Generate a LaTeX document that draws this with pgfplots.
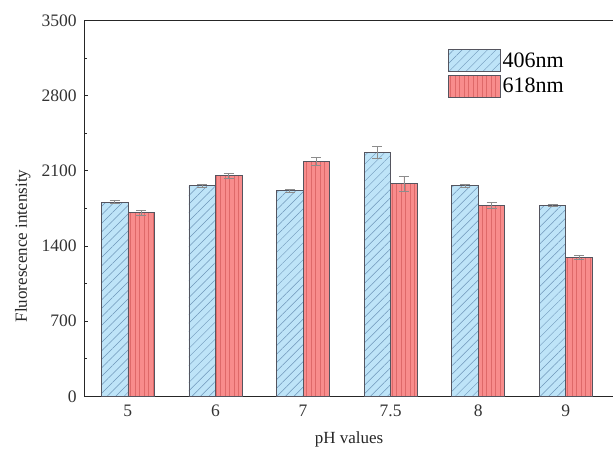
\documentclass[border=0pt]{standalone}
\usepackage{fontspec}
\setmainfont{Liberation Serif}
\usepackage{pgfplots}
\pgfplotsset{compat=1.18}
\usetikzlibrary{patterns.meta}
\definecolor{bfill}{RGB}{190,228,248}
\definecolor{bline}{RGB}{110,150,185}
\definecolor{rfill}{RGB}{248,140,140}
\definecolor{rline}{RGB}{222,105,105}
\definecolor{edge}{RGB}{85,85,95}
\definecolor{errc}{RGB}{140,140,140}
\pgfplotsset{myerr/.style={error bars/.cd, y dir=both, y explicit,
  error bar style={draw=errc, line width=0.6pt},
  error mark options={rotate=90, mark size=5pt, draw=errc, line width=0.6pt}}}
\begin{document}
\begin{tikzpicture}
\begin{axis}[
  scale only axis, width=529.4pt, height=375.5pt,
  xmin=-0.5, xmax=5.55, ymin=0, ymax=3500,
  ybar=0pt, bar width=26.5pt,
  xtick={0,1,2,3,4,5}, xticklabels={5,6,7,7.5,8,9},
  ytick={0,700,1400,2100,2800,3500},
  minor ytick={350,1050,1750,2450,3150},
  ytick pos=left, tick align=inside,
  major tick length=4pt, minor tick length=2.5pt,
  xtick style={draw=none},
  axis line style={line width=1pt, black!85},
  every tick/.style={black!85, line width=0.8pt},
  /pgf/number format/assume math mode=true,
  /pgf/number format/1000 sep={},
  ticklabel style={font=\fontsize{17.5}{19}\selectfont, text=black!80},
  yticklabel style={xshift=-4pt},
  xticklabel style={yshift=-5pt},
  label style={font=\fontsize{17}{19}\selectfont, text=black!85},
  xlabel={pH values}, ylabel={Fluorescence intensity},
  xlabel style={yshift=-8pt},
  ylabel style={at={(ticklabel cs:0.4)}, yshift=4pt},
  legend style={draw=none, fill=none, at={(rel axis cs:0.686,0.924)}, anchor=north west,
    inner sep=0pt, row sep=3pt, font=\fontsize{22}{24}\selectfont,
    cells={anchor=west}},
  legend image code/.code={\draw[#1] (0pt,-11pt) rectangle (52pt,11pt);},
]
\addplot[draw=edge, line width=0.7pt, fill=bfill,
  postaction={pattern={Lines[angle=45,distance=6pt,line width=0.5pt]}, pattern color=bline},
  myerr]
  coordinates {(0,1809) +- (0,15) (1,1964) +- (0,15) (2,1917) +- (0,15)
               (3,2271) +- (0,55) (4,1964) +- (0,15) (5,1778) +- (0,8)};
\addlegendentry{406nm}
\addplot[draw=edge, line width=0.7pt, fill=rfill,
  postaction={pattern={Lines[angle=90,distance=4.5pt,line width=0.5pt]}, pattern color=rline},
  myerr]
  coordinates {(0,1710) +- (0,25) (1,2057) +- (0,22) (2,2187) +- (0,35)
               (3,1980) +- (0,71) (4,1778) +- (0,25) (5,1297) +- (0,20)};
\addlegendentry{618nm}
\coordinate (ll) at (rel axis cs:0,0);
\coordinate (ur) at (rel axis cs:1,1);
\end{axis}
\pgfresetboundingbox
\path[use as bounding box] ([xshift=-84pt,yshift=-56pt]ll) rectangle ([xshift=-1pt,yshift=20.5pt]ur);
\end{tikzpicture}
\end{document}
